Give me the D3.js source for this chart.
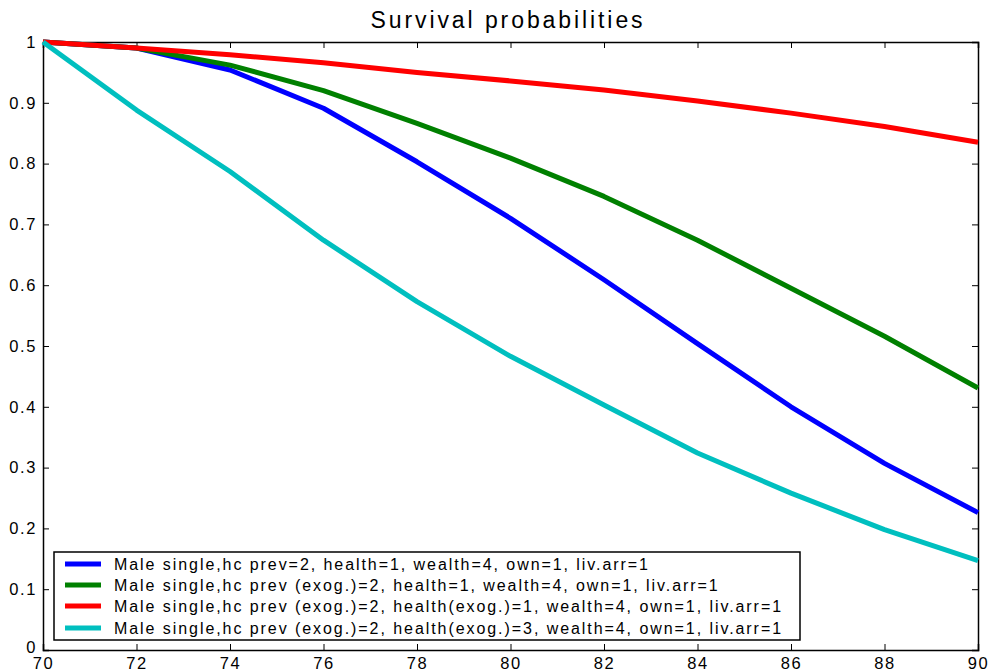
<!DOCTYPE html>
<html>
<head>
<meta charset="utf-8">
<script src="https://cdn.jsdelivr.net/npm/d3@7/dist/d3.min.js"></script>
<style>
  html, body { margin: 0; padding: 0; background: #fff; }
  svg { display: block; font-family: "Liberation Sans", Arial, sans-serif; }
</style>
</head>
<body>
<svg id="chart" width="990" height="672"></svg>
<script>
const ages = [70, 72, 74, 76, 78, 80, 82, 84, 86, 88, 90];
const blueVals  = [1.000, 0.990, 0.954, 0.891, 0.803, 0.710, 0.609, 0.504, 0.400, 0.307, 0.226];
const greenVals = [1.000, 0.990, 0.962, 0.920, 0.866, 0.809, 0.746, 0.674, 0.595, 0.516, 0.431];
const redVals   = [1.000, 0.990, 0.979, 0.966, 0.950, 0.936, 0.921, 0.903, 0.883, 0.861, 0.835];
const cyanVals  = [1.000, 0.888, 0.787, 0.674, 0.573, 0.483, 0.403, 0.324, 0.258, 0.198, 0.147];
const seriesNames = [
  "Male single,hc prev=2, health=1, wealth=4, own=1, liv.arr=1",
  "Male single,hc prev (exog.)=2, health=1, wealth=4, own=1, liv.arr=1",
  "Male single,hc prev (exog.)=2, health(exog.)=1, wealth=4, own=1, liv.arr=1",
  "Male single,hc prev (exog.)=2, health(exog.)=3, wealth=4, own=1, liv.arr=1"
];
const seriesColors = ["#0000ff", "#008000", "#ff0000", "#00bfbf"];
const xTicks = [70, 72, 74, 76, 78, 80, 82, 84, 86, 88, 90];
const yTicks = [0, 0.1, 0.2, 0.3, 0.4, 0.5, 0.6, 0.7, 0.8, 0.9, 1];
const titleText = "Survival probabilities";

const series = [blueVals, greenVals, redVals, cyanVals].map((v, i) => ({
  name: seriesNames[i], color: seriesColors[i], values: v
}));

const FONT = '"Liberation Sans", Arial, sans-serif';
const svg = d3.select("#chart");
const L = 43, R = 978, T = 42, B = 650;
const x = d3.scaleLinear().domain([70, 90]).range([L, R]);
const y = d3.scaleLinear().domain([0, 1]).range([B, T]);

// Axes (ticks inward, box)
const tickLen = 6;
const fmt = d => String(+d.toFixed(1));
const styleTickText = g => g.selectAll("text")
  .attr("font-size", 16.5).attr("font-family", FONT).attr("fill", "#000")
  .style("letter-spacing", "1.6px");
svg.append("g").attr("transform", `translate(0,${B})`)
  .call(d3.axisBottom(x).tickValues(xTicks).tickSize(-tickLen).tickPadding(7).tickFormat(d => d))
  .call(styleTickText);
svg.append("g").attr("transform", `translate(0,${T})`)
  .call(d3.axisTop(x).tickValues(xTicks).tickSize(-tickLen).tickFormat(""));
svg.append("g").attr("transform", `translate(${L},0)`)
  .call(d3.axisLeft(y).tickValues(yTicks).tickSize(-tickLen).tickPadding(6).tickFormat(fmt))
  .call(styleTickText)
  .call(g => g.selectAll(".tick").filter(d => d === 0).select("text").attr("y", -3));
svg.append("g").attr("transform", `translate(${R},0)`)
  .call(d3.axisRight(y).tickValues(yTicks).tickSize(-tickLen).tickFormat(""));
svg.selectAll(".domain").attr("stroke", "#000").attr("stroke-width", 1.5);
svg.selectAll(".tick line").attr("stroke", "#000").attr("stroke-width", 1);

// Lines
const line = d3.line().x((d, i) => x(ages[i])).y(d => y(d));
svg.append("g")
  .selectAll("path").data(series).join("path")
  .attr("d", d => line(d.values))
  .attr("fill", "none")
  .attr("stroke", d => d.color)
  .attr("stroke-width", 5)
  .attr("stroke-linejoin", "round");

// Title (spaced to the reference width)
const title = svg.append("text").attr("x", 508).attr("y", 28).attr("text-anchor", "middle")
  .attr("font-size", 23).attr("font-family", FONT).attr("fill", "#000").text(titleText);
{
  const w = title.node().getComputedTextLength();
  const sp = (275 - w) / titleText.length;
  title.style("letter-spacing", sp + "px");
}

// Legend
const lg = svg.append("g");
lg.append("rect").attr("x", 54).attr("y", 552).attr("width", 746).attr("height", 88)
  .attr("fill", "#fff").attr("stroke", "#000").attr("stroke-width", 1.5);
const rowY = [564, 585, 606, 628];
const texts = [];
series.forEach((s, i) => {
  lg.append("line").attr("x1", 65).attr("x2", 101).attr("y1", rowY[i]).attr("y2", rowY[i])
    .attr("stroke", s.color).attr("stroke-width", 5);
  texts.push(lg.append("text").attr("x", 114).attr("y", rowY[i] + 6).attr("font-size", 16)
    .attr("font-family", FONT).attr("fill", "#000").text(s.name));
});
{
  const w = texts[2].node().getComputedTextLength();
  const sp = (669 - w) / seriesNames[2].length;
  texts.forEach(t => t.style("letter-spacing", sp + "px"));
}
</script>
</body>
</html>
